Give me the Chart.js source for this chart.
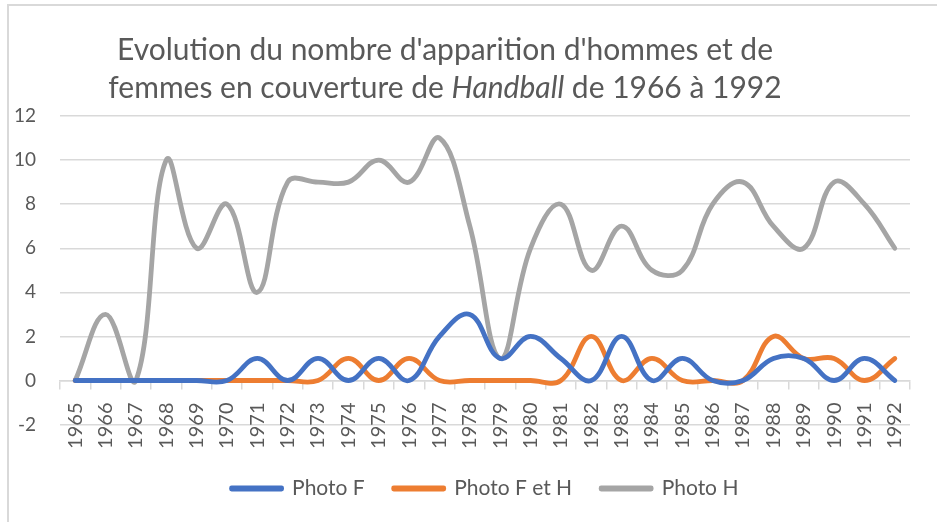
<!DOCTYPE html>
<html lang="fr">
<head>
<meta charset="utf-8">
<title>Handball</title>
<script src="https://cdn.jsdelivr.net/npm/chart.js@4.4.1/dist/chart.umd.min.js"></script>
<style>
    html, body { margin: 0; padding: 0; background: #fff; overflow: hidden; }
    #wrap { position: relative; width: 937px; height: 522px; }
    #frame { position: absolute; left: 7px; top: 4px; width: 1000px; height: 600px; border: 2px solid #d9d9d9; box-sizing: border-box; }
    #chartTitle { position: absolute; left: 0; top: 29px; width: 890px; margin: 0; text-align: center; font-family: Lato, sans-serif; font-weight: normal; font-size: 30px; line-height: 38px; color: #595959; }
    canvas { position: absolute; left: 0; top: 0; }
</style>
</head>
<body>
<div id="wrap">
    <div id="frame"></div>
    <canvas id="handballChart" width="937" height="522"></canvas>
    <h1 id="chartTitle">Evolution du nombre d'apparition d'hommes et de<br>femmes en couverture de <i>Handball</i> de 1966 à 1992</h1>
</div>
<script>
const years = ['1965', '1966', '1967', '1968', '1969', '1970', '1971', '1972', '1973', '1974',
    '1975', '1976', '1977', '1978', '1979', '1980', '1981', '1982', '1983', '1984',
    '1985', '1986', '1987', '1988', '1989', '1990', '1991', '1992'];

const photoF = [0, 0, 0, 0, 0, 0, 1, 0, 1, 0, 1, 0, 2, 3, 1, 2, 1, 0, 2, 0, 1, 0, 0, 1, 1, 0, 1, 0];
const photoFH = [0, 0, 0, 0, 0, 0, 0, 0, 0, 1, 0, 1, 0, 0, 0, 0, 0, 2, 0, 1, 0, 0, 0, 2, 1, 1, 0, 1];
const photoH = [0, 3, 0, 10, 6, 8, 4, 9, 9, 9, 10, 9, 11, 7, 1, 6, 8, 5, 7, 5, 5, 8, 9, 7, 6, 9, 8, 6];

const yTicks = { min: -2, max: 12, step: 2 };

document.addEventListener('DOMContentLoaded', () => {
    const ctx = document.getElementById('handballChart');
    if (!ctx) return;

    Chart.defaults.font.family = 'Lato, sans-serif';
    Chart.defaults.color = '#595959';

    const grey = '#d9d9d9';

    new Chart(ctx, {
        type: 'line',
        data: {
            labels: years,
            datasets: [
                { label: 'Photo F', data: photoF, borderColor: '#4472C4', backgroundColor: '#4472C4' },
                { label: 'Photo F et H', data: photoFH, borderColor: '#ED7D31', backgroundColor: '#ED7D31' },
                { label: 'Photo H', data: photoH, borderColor: '#A5A5A5', backgroundColor: '#A5A5A5' }
            ]
        },
        options: {
            responsive: false,
            animation: false,
            layout: { padding: { top: 116, left: 15, right: 27, bottom: 13 } },
            elements: {
                line: { tension: 0.4, borderWidth: 4.8, borderCapStyle: 'round', borderJoinStyle: 'round', fill: false },
                point: { radius: 0, hoverRadius: 0 }
            },
            scales: {
                x: {
                    position: { y: 0 },
                    offset: true,
                    grid: { offset: true, drawOnChartArea: false, drawTicks: true, tickLength: 8, color: grey, lineWidth: 1.5 },
                    border: { color: grey, width: 1.5 },
                    ticks: { autoSkip: false, minRotation: 90, maxRotation: 90, padding: 14, font: { size: 20 } }
                },
                y: {
                    min: yTicks.min,
                    max: yTicks.max,
                    afterFit: (scale) => { scale.width = 45; },
                    ticks: { stepSize: yTicks.step, padding: 24, font: { size: 19 } },
                    grid: { color: grey, lineWidth: 1.5, drawTicks: false },
                    border: { display: false }
                }
            },
            plugins: {
                legend: {
                    position: 'bottom',
                    fullSize: false,
                    title: { display: true, text: '', padding: { top: 10, bottom: 0 } },
                    labels: { boxWidth: 50, boxHeight: 1, padding: 29, font: { size: 21 } }
                },
                title: { display: false },
                tooltip: { enabled: false }
            }
        }
    });
});
</script>
</body>
</html>
